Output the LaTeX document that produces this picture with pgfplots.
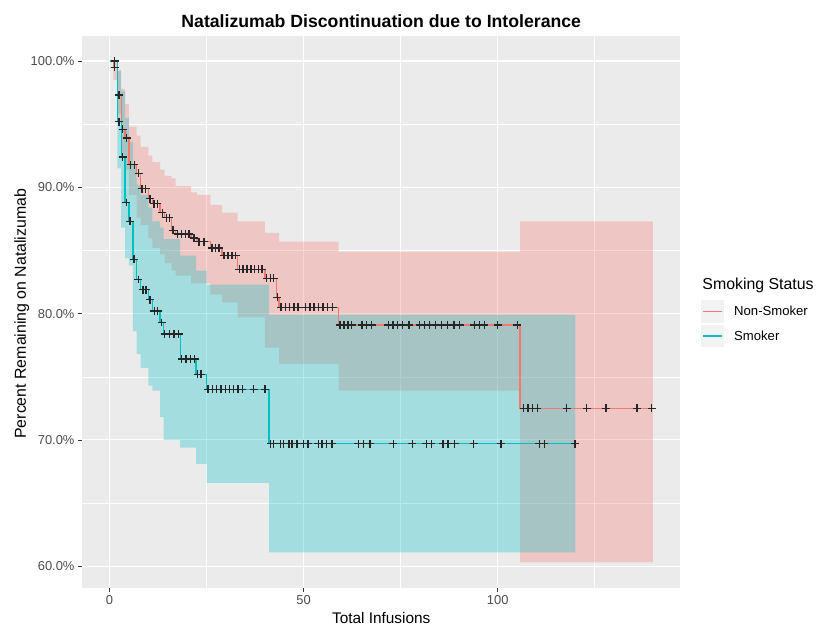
\documentclass[border=0pt]{standalone}
\usepackage{fontspec}
\setmainfont{Liberation Sans}
\usepackage{pgfplots}
\usepackage{pgfplotstable}
\pgfplotsset{compat=1.18}
\usepgfplotslibrary{fillbetween}
\definecolor{bgG}{HTML}{EBEBEB}
\definecolor{ggred}{RGB}{248,118,109}
\definecolor{ggteal}{RGB}{0,191,196}
\definecolor{tickC}{HTML}{4D4D4D}
\definecolor{tickM}{HTML}{333333}
\definecolor{keyG}{HTML}{F2F2F2}

% Non-smoker survival curve
\pgfplotstableread{
x y
0 100
1 99.5
2 97.3
3 94.6
4 93.9
5 91.8
7 91.1
8 89.9
10 89.1
11 88.7
13 88.0
14.2 87.6
16 86.6
17 86.3
21 86.0
22.5 85.7
26 85.2
29 84.6
33 83.5
40 82.8
43 81.3
43.7 80.5
59 79.1
105.8 72.5
139.7 72.5
}\nsCurve
\pgfplotstableread{
x y
0 100
2 99.3
3 97.8
4 96.6
5 94.8
7 94.1
8 93.2
10 92.5
11 92.0
13 91.4
14.2 90.9
16 90.7
17 90.1
21 89.6
22.5 89.4
26 88.6
29 88.0
33 87.3
40 86.4
43.7 85.7
59 84.9
105.8 87.3
140 87.3
}\nsUpper
\pgfplotstableread{
x y
0 100
1 98.5
2 95.8
3 92.5
4 91.4
5 89.4
7 87.6
8 87.0
10 86.0
11 85.2
13 84.7
14.2 84.0
16 83.4
17 83.0
21 82.4
26 81.5
29 80.9
33 79.7
40 77.3
43.7 76.0
59 73.9
105.8 60.3
140 60.3
}\nsLower
\pgfplotstableread{
x y
1.3 99.5
2.4 97.3
3.4 94.6
4.4 93.9
5.4 91.8
6.4 91.8
7.5 91.1
8.4 89.9
9.3 89.9
10.4 89.1
11.4 88.7
12.3 88.7
13.6 88.0
14.6 87.6
15.4 87.6
16.3 86.6
17.5 86.3
18.5 86.3
19.5 86.3
20.5 86.3
21.8 86.0
23.0 85.7
24.3 85.7
26.4 85.2
27.3 85.2
28.2 85.2
29.5 84.6
30.5 84.6
31.5 84.6
32.5 84.6
33.4 83.5
34.4 83.5
35.4 83.5
36.4 83.5
37.4 83.5
38.4 83.5
39.3 83.5
40.5 82.8
41.4 82.8
42.3 82.8
43.2 81.3
44.2 80.5
45.3 80.5
46.4 80.5
47.5 80.5
48.6 80.5
50.5 80.5
51.6 80.5
52.7 80.5
53.8 80.5
55.0 80.5
56.2 80.5
57.5 80.5
59.4 79.1
60.4 79.1
61.4 79.1
62.4 79.1
65.0 79.1
66.2 79.1
67.5 79.1
71.8 79.1
73.0 79.1
74.2 79.1
75.5 79.1
77.2 79.1
79.9 79.1
81.2 79.1
82.5 79.1
84.0 79.1
85.5 79.1
87.0 79.1
88.7 79.1
90.2 79.1
94.0 79.1
95.3 79.1
96.6 79.1
100.0 79.1
105.1 79.1
106.7 72.5
107.8 72.5
109.0 72.5
110.2 72.5
117.8 72.5
122.9 72.5
127.9 72.5
135.9 72.5
139.7 72.5
}\nsCens

% Smoker survival curve
\pgfplotstableread{
x y
0 100
2 95.2
3 92.4
4 88.8
5 87.3
6 84.3
7 82.7
8 81.9
10 81.1
11 80.2
13 79.3
13.9 78.4
18.2 76.4
22.3 75.2
25 74.0
41.1 69.7
119.9 69.7
}\sCurve
\pgfplotstableread{
x y
0 100
2 99.2
3 97.6
4 95.5
5 93.6
6 91.8
7 90.2
8 89.4
10 88.4
11 87.3
13 86.8
13.9 85.9
18.2 84.6
22.3 83.4
25 82.3
41.1 79.9
120 79.9
}\sUpper
\pgfplotstableread{
x y
0 100
2 91.5
3 86.8
4 84.4
5 83.8
6 78.6
7 76.8
8 75.7
10 74.3
11 73.9
13 71.8
13.9 70.0
18.2 69.4
22.3 68.1
25 66.6
41.1 61.1
120 61.1
}\sLower
\pgfplotstableread{
x y
1.3 100
2.4 95.2
3.4 92.4
4.3 88.8
5.3 87.3
6.3 84.3
7.4 82.7
8.6 81.9
9.4 81.9
10.4 81.1
11.5 80.2
12.4 80.2
13.4 79.3
14.2 78.4
15.4 78.4
16.6 78.4
17.8 78.4
18.6 76.4
19.7 76.4
20.8 76.4
21.9 76.4
22.7 75.2
23.6 75.2
25.4 74.0
26.5 74.0
27.6 74.0
28.7 74.0
29.8 74.0
30.9 74.0
32.0 74.0
33.1 74.0
34.2 74.0
37.1 74.0
40.0 74.0
41.5 69.7
42.3 69.7
44.0 69.7
44.8 69.7
46.2 69.7
47.0 69.7
48.3 69.7
50.0 69.7
51.1 69.7
53.8 69.7
54.7 69.7
55.9 69.7
57.3 69.7
64.1 69.7
65.4 69.7
67.1 69.7
73.1 69.7
78.0 69.7
81.6 69.7
82.9 69.7
85.9 69.7
87.2 69.7
88.9 69.7
93.8 69.7
100.9 69.7
110.7 69.7
112.0 69.7
119.9 69.7
}\sCens

\begin{document}
\begin{tikzpicture}[x=1pt,y=1pt]
\begin{axis}[
  at={(83pt,40pt)}, anchor=south west,
  scale only axis, width=602pt, height=556pt,
  xmin=-7, xmax=147, ymin=58.3, ymax=102,
  axis background/.style={fill=bgG},
  axis line style={draw=none},
  xtick={0,50,100}, minor xtick={25,75,125},
  ytick={60,70,80,90,100}, minor ytick={65,75,85,95},
  grid=both,
  major grid style={white, line width=1.1pt},
  minor grid style={white, line width=0.55pt},
  tick align=outside, xtick pos=bottom, ytick pos=left,
  major tick length=4.5pt, minor tick length=0pt,
  tick style={tickM, line width=0.8pt},
  /pgf/number format/assume math mode=true,
  ticklabel style={font=\fontsize{13}{15}\selectfont, text=tickC},
  yticklabel={\pgfmathprintnumber[fixed,fixed zerofill,precision=1]{\tick}\%},
]
\addplot[name path=nsU, draw=none, const plot, forget plot] table {\nsUpper};
\addplot[name path=nsL, draw=none, const plot, forget plot] table {\nsLower};
\addplot[fill=ggred, fill opacity=0.3, draw=none, forget plot] fill between[of=nsU and nsL];
\addplot[name path=sU, draw=none, const plot, forget plot] table {\sUpper};
\addplot[name path=sL, draw=none, const plot, forget plot] table {\sLower};
\addplot[fill=ggteal, fill opacity=0.3, draw=none, forget plot] fill between[of=sU and sL];
\addplot[draw=ggred, line width=1.4pt, const plot, forget plot] table {\nsCurve};
\addplot[draw=ggteal, line width=1.4pt, const plot, forget plot] table {\sCurve};
\addplot[only marks, mark=+, mark size=4pt, black!85, line width=1.4pt, forget plot] table {\nsCens};
\addplot[only marks, mark=+, mark size=4pt, black!85, line width=1.4pt, forget plot] table {\sCens};
\end{axis}
% title and axis titles
\node[anchor=base, font=\bfseries\fontsize{17.8}{20}\selectfont] at (384,604) {Natalizumab Discontinuation due to Intolerance};
\node[anchor=base, font=\fontsize{15.5}{18}\selectfont] at (384,4) {Total Infusions};
\node[rotate=90, anchor=base, font=\fontsize{16}{18}\selectfont] at (26,316) {Percent Remaining on Natalizumab};
% legend
\node[anchor=west, font=\fontsize{16}{18}\selectfont] at (704,345) {Smoking Status};
\fill[keyG] (706,307) rectangle (729,330);
\fill[keyG] (706,282) rectangle (729,305);
\draw[draw=ggred, line width=1.4pt] (708,318.5) -- (727,318.5);
\draw[draw=ggteal, line width=1.4pt] (708,293.5) -- (727,293.5);
\node[anchor=west, font=\fontsize{13.2}{15}\selectfont] at (736,318.5) {Non-Smoker};
\node[anchor=west, font=\fontsize{13.2}{15}\selectfont] at (736,293.5) {Smoker};
\path (0,0) rectangle (817,632);
\end{tikzpicture}
\end{document}
